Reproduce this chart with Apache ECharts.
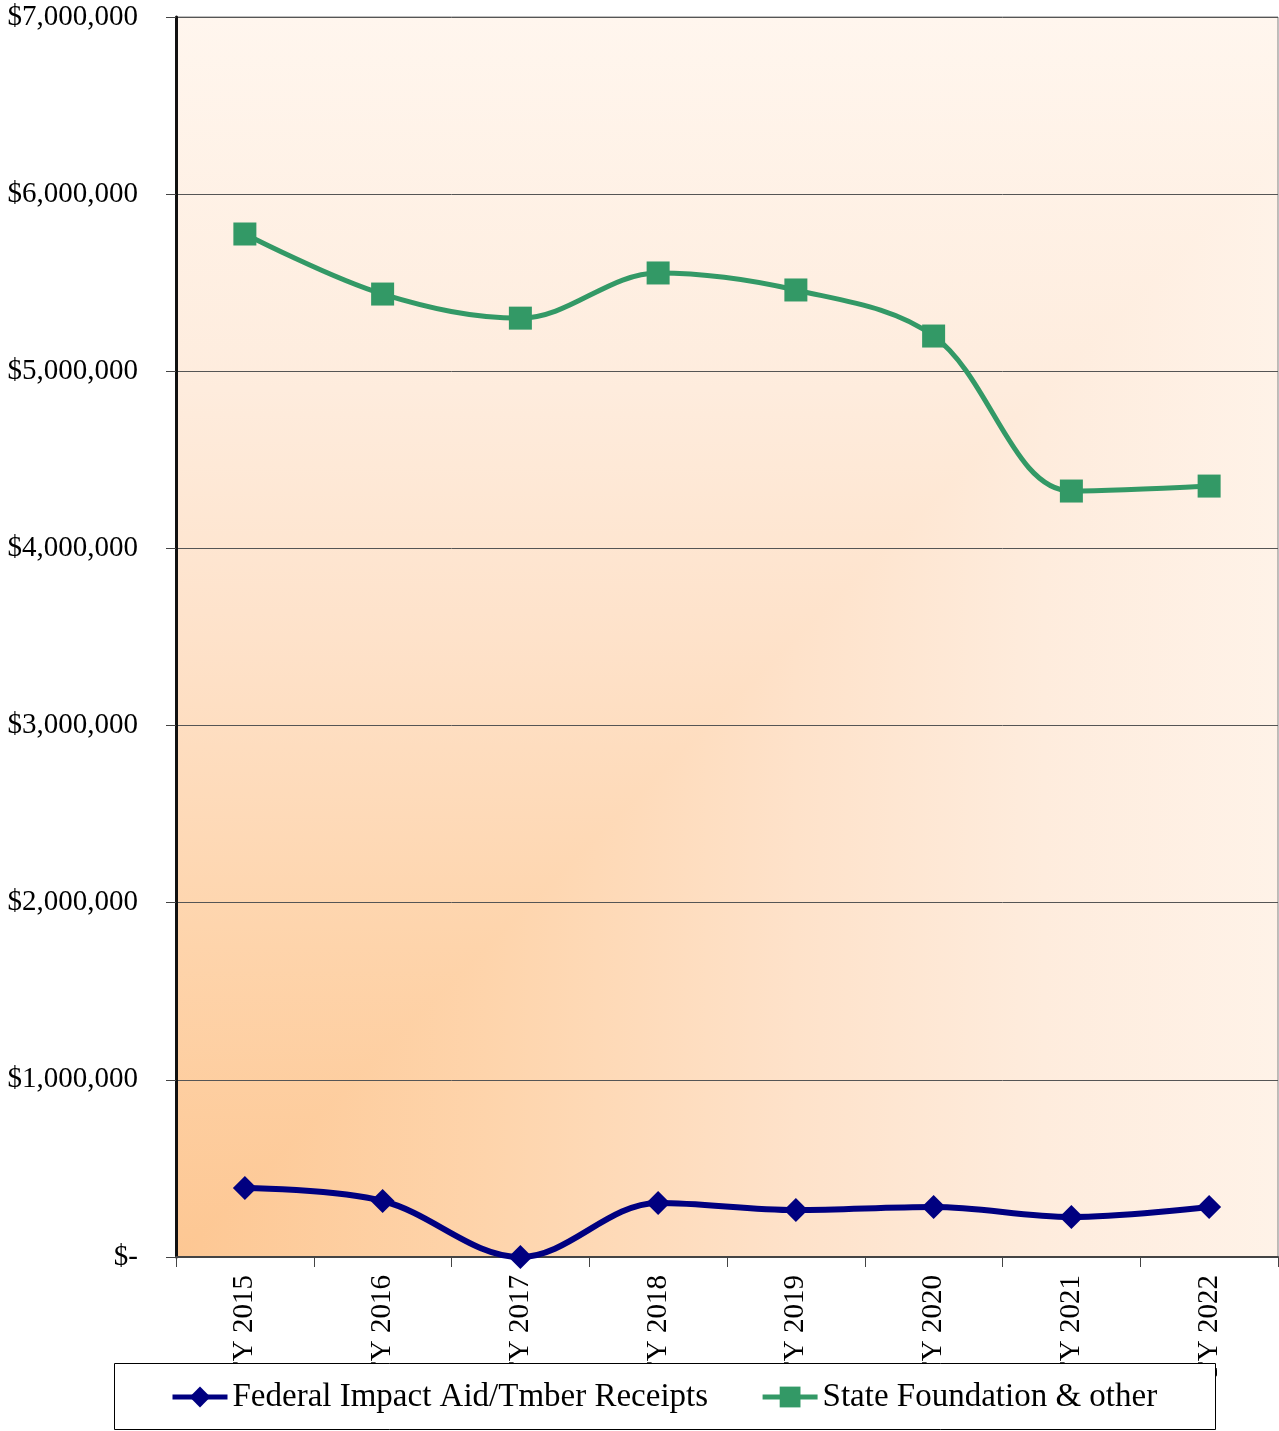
<!DOCTYPE html>
<html>
<head>
<meta charset="utf-8">
<script src="https://cdn.jsdelivr.net/npm/echarts@6/dist/echarts.min.js"></script>
<style>
  html, body { margin: 0; padding: 0; background: #fff; }
  #chart { width: 1279px; height: 1431px; }
</style>
</head>
<body>
<div id="chart"></div>
<script>
// data
const years = ['FY 2015', 'FY 2016', 'FY 2017', 'FY 2018', 'FY 2019', 'FY 2020', 'FY 2021', 'FY 2022'];
const federalAid = [390000, 316000, 0, 305000, 265000, 282000, 226000, 282000];
const stateFoundation = [5775000, 5436000, 5300000, 5555000, 5459000, 5199000, 4324000, 4352000];
const yTicks = { min: 0, max: 7000000, interval: 1000000 };

// plot box
const G = { left: 176, top: 17, width: 1102, height: 1240 };
const x0 = G.left, y0 = G.top + G.height; // bottom-left corner
const x1 = G.left + G.width, y1 = G.top;
const span = 1240;

const rampStops = [
  { offset: 0, color: '#fdc793' },
  { offset: 0.25, color: '#fed4ab' },
  { offset: 0.5, color: '#fee2ca' },
  { offset: 0.7, color: '#feecdd' },
  { offset: 1, color: '#fff6ee' }
];
function ramp(xa, ya, xb, yb) {
  return { type: 'linear', global: true, x: xa, y: ya, x2: xb, y2: yb, colorStops: rampStops };
}
// "from corner" fill: vertical ramp everywhere, horizontal ramp below the 45 degree line
const diagX = Math.min(x1, x0 + G.height);
const diagY = y0 - (diagX - x0);

const serif = 'Liberation Serif, Times New Roman, serif';

const chart = echarts.init(document.getElementById('chart'));
chart.setOption({
  backgroundColor: '#fff',
  animation: false,
  grid: {
    left: G.left, top: G.top, width: G.width, height: G.height,
    show: true, backgroundColor: 'transparent', borderColor: '#808080', borderWidth: 1
  },
  graphic: [
    {
      type: 'rect', silent: true, z: -11,
      shape: { x: x0, y: y1, width: G.width, height: G.height },
      style: { fill: ramp(x0, y0, x0, y0 - span) }
    },
    {
      type: 'polygon', silent: true, z: -10,
      shape: { points: [[x0, y0], [x1, y0], [x1, diagY], [diagX, diagY]] },
      style: { fill: ramp(x0, y0, x0 + span, y0) }
    },
    {
      type: 'rect', silent: true, z: 3,
      shape: { x: 114.5, y: 1363.5, width: 1101, height: 66 },
      style: { fill: '#fff', stroke: '#000', lineWidth: 1 }
    }
  ],
  legend: {
    z: 5,
    left: 170,
    top: 1380,
    padding: 0,
    itemGap: 52,
    itemWidth: 55,
    itemHeight: 26,
    lineStyle: { width: 5 },
    textStyle: { fontFamily: serif, fontSize: 33, color: '#000', lineHeight: 34 },
    data: ['Federal Impact Aid/Tmber Receipts', 'State Foundation & other']
  },
  xAxis: {
    type: 'category',
    data: years,
    boundaryGap: true,
    axisLine: { lineStyle: { color: '#444', width: 2 } },
    axisTick: { show: true, length: 10, lineStyle: { color: '#444', width: 1 } },
    axisLabel: {
      rotate: 90, margin: 18, interval: 0,
      fontFamily: serif, fontSize: 29, color: '#000'
    },
    splitLine: { show: false }
  },
  yAxis: {
    type: 'value',
    min: yTicks.min, max: yTicks.max, interval: yTicks.interval,
    axisLine: { show: true, lineStyle: { color: '#111', width: 3 } },
    axisTick: { show: true, length: 10, lineStyle: { color: '#444', width: 1 } },
    axisLabel: {
      margin: 38, fontFamily: serif, fontSize: 29, color: '#000',
      formatter: v => v === 0 ? '$-' : '$' + v.toLocaleString('en-US')
    },
    splitLine: { show: true, lineStyle: { color: '#555', width: 1 } }
  },
  series: [
    {
      name: 'Federal Impact Aid/Tmber Receipts',
      type: 'line',
      data: federalAid,
      smooth: 0.35,
      symbol: 'diamond',
      symbolSize: [24, 24],
      lineStyle: { color: '#000080', width: 6 },
      itemStyle: { color: '#000080' },
      z: 3
    },
    {
      name: 'State Foundation & other',
      type: 'line',
      data: stateFoundation,
      smooth: 0.35,
      symbol: 'rect',
      symbolSize: 23,
      lineStyle: { color: '#339966', width: 5 },
      itemStyle: { color: '#339966' },
      z: 2
    }
  ]
});
</script>
</body>
</html>
